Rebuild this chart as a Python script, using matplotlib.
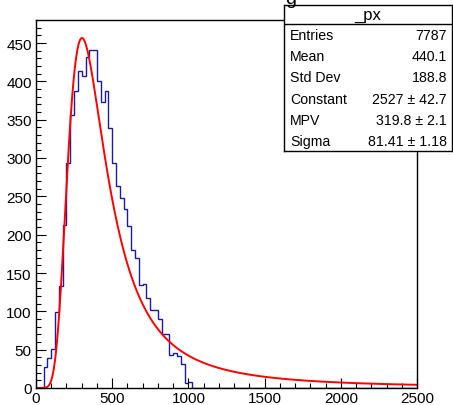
"""
ROOT-style histogram of _px with a Landau fit and stats box.
"""

import numpy as np
import matplotlib
matplotlib.use('Agg')
import matplotlib.pyplot as plt

plt.rcParams['font.family'] = ['Liberation Sans', 'DejaVu Sans']

# histogram: 100 bins of width 25 from 0 to 2500 (counts)
bin_edges = np.arange(0, 2525, 25)
counts = [0, 0, 27, 39, 51, 99, 133, 212, 293, 356,
          387, 413, 407, 432, 441, 441, 400, 373, 387, 339,
          294, 263, 248, 233, 211, 180, 170, 134, 136, 117,
          102, 102, 90, 70, 70, 43, 46, 42, 31, 7,
          8] + [0] * 59

# fit result (landau)
fit_constant = 2527
fit_mpv = 319.8
fit_sigma = 81.41

stat_labels = ['Entries', 'Mean', 'Std Dev', 'Constant', 'MPV', 'Sigma']
stat_values = ['7787', '440.1', '188.8', '2527 \u00b1 42.7', '319.8 \u00b1 2.1', '81.41 \u00b1 1.18']


def landau(lam):
    # Landau density via inverse Laplace integral along vertical line through saddle point
    out = np.zeros(len(lam))
    t = np.linspace(0, 40, 20001)
    for i, l in enumerate(lam):
        c = max(np.exp(-1 - l), 0.05)
        s = c + 1j * t
        f = np.exp(s * np.log(s) + l * s)
        out[i] = np.trapezoid(f.real, t) / np.pi
    return out


x_fit = np.linspace(0, 2500, 600)
y_fit = fit_constant * landau((x_fit - fit_mpv) / fit_sigma)

fig = plt.figure(figsize=(4.53, 4.06), dpi=100)
ax = fig.add_axes([36 / 453, 17 / 406, 381 / 453, 368 / 406])

ax.stairs(counts, bin_edges, color='#1a1aa0', linewidth=1.0, baseline=0)
ax.plot(x_fit, y_fit, color='#ff0000', linewidth=1.4)

ax.set_xlim(0, 2500)
ax.set_ylim(0, 480)
ax.set_xticks(np.arange(0, 2501, 500))
ax.set_xticks(np.arange(0, 2501, 100), minor=True)
ax.set_yticks(np.arange(0, 451, 50))
ax.set_yticks(np.arange(0, 480, 10), minor=True)
ax.tick_params(which='both', direction='in', top=False, right=False, labelsize=11, width=0.8)
ax.tick_params(which='major', length=7.2)
ax.tick_params(which='minor', length=3.6)
ax.tick_params(axis='y', pad=3)
ax.tick_params(axis='x', pad=2)
for sp in ax.spines.values():
    sp.set_linewidth(1.0)

# title fragment peeking above the stats box
fig.text(285 / 453, 1 - 4 / 406, 'g', fontsize=14, ha='left', va='baseline')

# stats box
box = fig.add_axes([284 / 453, 1 - 152 / 406, 168 / 453, 146 / 406])
box.set_xticks([])
box.set_yticks([])
box.set_xlim(0, 168)
box.set_ylim(146, 0)
for sp in box.spines.values():
    sp.set_linewidth(1.0)
box.axhline(19, color='black', linewidth=1.0)
box.text(84, 9.5, '_px', fontsize=12, ha='center', va='center')
for i in range(len(stat_labels)):
    yy = 30 + i * 21.2
    box.text(6, yy, stat_labels[i], fontsize=10.2, ha='left', va='center')
    box.text(163, yy, stat_values[i], fontsize=10.2, ha='right', va='center')

plt.savefig('out.png', dpi=100)
